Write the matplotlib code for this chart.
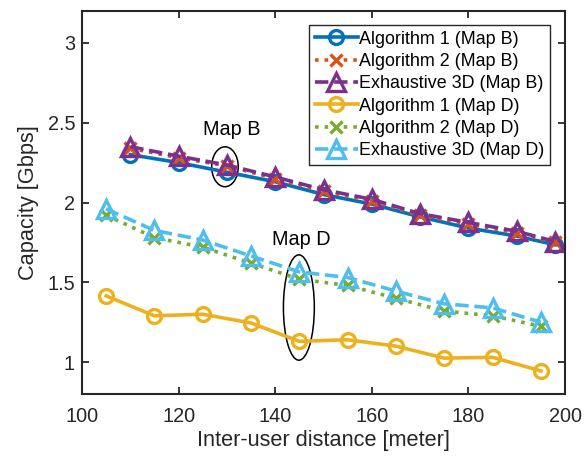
import numpy as np
import matplotlib
matplotlib.use("Agg")
import matplotlib.pyplot as plt
from matplotlib.patches import Ellipse

plt.rcParams["font.family"] = ["Liberation Sans", "DejaVu Sans"]

# Map B results
dist_b = [110, 120, 130, 140, 150, 160, 170, 180, 190, 198]
alg1_b = [2.30, 2.25, 2.19, 2.13, 2.05, 1.99, 1.91, 1.84, 1.79, 1.735]
alg2_b = [2.34, 2.28, 2.23, 2.15, 2.07, 2.01, 1.92, 1.865, 1.81, 1.75]
exh_b = [2.35, 2.29, 2.235, 2.16, 2.08, 2.02, 1.93, 1.875, 1.82, 1.755]

# Map D results
dist_d = [105, 115, 125, 135, 145, 155, 165, 175, 185, 195]
alg1_d = [1.415, 1.29, 1.30, 1.245, 1.13, 1.14, 1.10, 1.025, 1.03, 0.945]
alg2_d = [1.92, 1.78, 1.72, 1.62, 1.52, 1.48, 1.40, 1.32, 1.29, 1.225]
exh_d = [1.96, 1.825, 1.765, 1.665, 1.565, 1.53, 1.445, 1.365, 1.34, 1.25]

labels = ["Algorithm 1 (Map B)", "Algorithm 2 (Map B)", "Exhaustive 3D (Map B)",
          "Algorithm 1 (Map D)", "Algorithm 2 (Map D)", "Exhaustive 3D (Map D)"]

c_blue = "#0072BD"
c_orange = "#D95319"
c_purple = "#7E2F8E"
c_yellow = "#EDB120"
c_green = "#77AC30"
c_cyan = "#4DBEEE"
axcol = "#262626"

fig = plt.figure(figsize=(5.84, 4.58), dpi=100)
ax = fig.add_axes([0.1404, 0.1397, 0.8271, 0.8363])

lw = 2.6
mew = 2.4
ax.plot(dist_b, alg1_b, "-", color=c_blue, lw=lw, marker="o", ms=10,
        mfc="none", mew=mew, label=labels[0])
ax.plot(dist_b, alg2_b, ":", color=c_orange, lw=lw, marker="x", ms=8,
        mew=mew, label=labels[1])
ax.plot(dist_b, exh_b, "--", color=c_purple, lw=lw, marker="^", ms=13,
        mfc="none", mew=mew, label=labels[2])
ax.plot(dist_d, alg1_d, "-", color=c_yellow, lw=lw, marker="o", ms=10,
        mfc="none", mew=mew, label=labels[3])
ax.plot(dist_d, alg2_d, ":", color=c_green, lw=lw, marker="x", ms=8,
        mew=mew, label=labels[4])
ax.plot(dist_d, exh_d, "--", color=c_cyan, lw=lw, marker="^", ms=13,
        mfc="none", mew=mew, label=labels[5])

# annotations
ax.add_patch(Ellipse((129.6, 2.224), 5.5, 0.25, fill=False, color="black", lw=1.1))
ax.add_patch(Ellipse((144.9, 1.342), 6.4, 0.66, fill=False, color="black", lw=1.1))
ax.text(131, 2.46, "Map B", fontsize=14.3, ha="center", va="center")
ax.text(145.5, 1.77, "Map D", fontsize=14.3, ha="center", va="center")

ax.set_xlim(100, 200)
ax.set_ylim(0.8, 3.2)
ax.set_xticks([100, 120, 140, 160, 180, 200])
ax.set_yticks([1, 1.5, 2, 2.5, 3])
ax.set_yticklabels(["1", "1.5", "2", "2.5", "3"])
ax.tick_params(direction="in", top=True, right=True, length=5, width=1.3,
               labelsize=14.3, colors=axcol)
ax.tick_params(axis="x", pad=9)
ax.tick_params(axis="y", pad=5)
for s in ax.spines.values():
    s.set_linewidth(1.5)
    s.set_color(axcol)

ax.set_xlabel("Inter-user distance [meter]", fontsize=15.7, color=axcol, labelpad=3)
ax.set_ylabel("Capacity [Gbps]", fontsize=15.7, color=axcol, labelpad=6)

leg = ax.legend(loc="upper right", bbox_to_anchor=(0.969, 0.963), borderaxespad=0,
                fontsize=12.9, handlelength=2.4, handletextpad=0.1,
                labelspacing=0.3, borderpad=0.3, fancybox=False, framealpha=1)
leg.get_frame().set_edgecolor(axcol)
leg.get_frame().set_linewidth(1.0)

fig.savefig("out.png", dpi=100)
